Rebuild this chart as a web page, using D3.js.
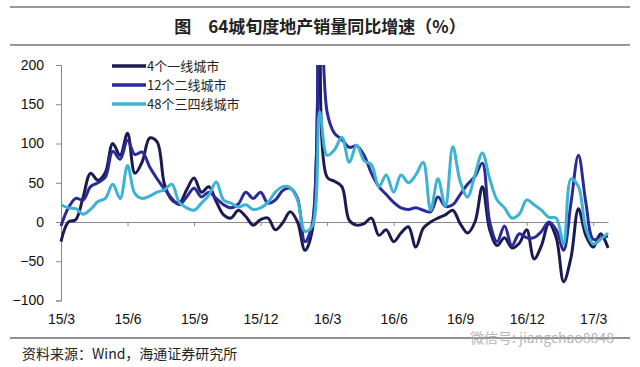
<!DOCTYPE html>
<html>
<head>
<meta charset="utf-8">
<script src="https://cdn.jsdelivr.net/npm/d3@7"></script>
<style>
body{margin:0;background:#fff}
text{font-family:"Liberation Sans",Arial,sans-serif}
.cn{font-family:"Noto Sans CJK SC","Noto Sans",sans-serif}
</style>
</head>
<body>
<div id="chart"></div>
<script>
// 旬度数据, 15/3 起, 每月三旬
let tickLabels = ["15/3","15/6","15/9","15/12","16/3","16/6","16/9","16/12","17/3"]
let seriesNames = ["4个一线城市","12个二线城市","48个三四线城市"]

let tier1 = [-25,0,3,32,62,53,63,100,85,113,62,77,107,102,48,28,24,41,56,38,
    45,26,9,5,15,7,-4,3,5,-10,-1,13,0,-36,-10,330,57,52,45,2,
    -4,-2,5,-17,-10,-25,-14,-6,-32,-8,0,5,9,15,-2,-14,0,45,-10,-30,
    -20,-33,-27,-10,-47,-30,-2,-20,-76,-45,17,-17,-32,-15,-33]
let tier2 = [-5,18,30,28,45,50,57,90,80,104,86,89,70,55,42,30,22,32,43,32,
    38,30,22,18,23,38,30,38,24,28,40,43,30,-25,-2,360,140,113,105,95,
    97,85,62,45,35,25,18,16,18,15,13,32,20,22,35,48,58,75,0,-25,
    -5,-30,-15,-20,-20,-12,0,-10,-36,25,85,25,-22,-20,-18]
let tier34 = [22,18,17,10,16,26,30,48,30,72,36,30,33,38,41,48,25,18,15,24,
    34,51,28,24,19,22,16,18,25,38,45,44,28,-12,-5,140,85,92,108,76,
    98,78,73,45,60,38,60,50,60,76,15,55,20,96,52,32,60,88,55,28,
    18,5,10,28,22,15,6,5,-28,55,45,-8,-28,-22,-14]

let yTicks = [-100,-50,0,50,100,150,200]
let colors = ["#1b1b50","#2b2b98","#3db2d2"]

function drawChart(){
    let W = 640, H = 367
    let svg = d3.select("#chart").append("svg")
        .attr("width", W).attr("height", H)

    // 标题
    svg.append("line").attr("x1", 10).attr("x2", 630).attr("y1", 7).attr("y2", 7)
        .attr("stroke", "#333").attr("stroke-width", 1.2)
    svg.append("line").attr("x1", 10).attr("x2", 630).attr("y1", 45).attr("y2", 45)
        .attr("stroke", "#333").attr("stroke-width", 1.2)
    svg.append("text").attr("class", "cn")
        .attr("x", 320).attr("y", 33).attr("text-anchor", "middle")
        .attr("font-size", 17).attr("font-weight", "bold").attr("fill", "#222")
        .text("图　64城旬度地产销量同比增速（%）")

    let data = [tier1, tier2, tier34]
    let n = tier1.length
    let scX = d3.scaleLinear().domain([0, n - 1]).range([61, 608])
    let scY = d3.scaleLinear().domain([-100, 200]).range([300.5, 65])

    // y轴
    let yAxis = d3.axisLeft(scY).tickValues(yTicks).tickSize(5).tickPadding(12)
    let gy = svg.append("g").attr("transform", "translate(61,0)").call(yAxis)
    gy.select(".domain").attr("stroke", "#888")
    gy.selectAll(".tick line").attr("stroke", "#888")
    gy.selectAll("text").attr("font-size", 14).attr("fill", "#111")
        .style("font-family", "Liberation Sans, Arial, sans-serif")

    // 零线和x轴
    let xAxis = d3.axisBottom(scX)
        .tickValues(tickLabels.map((d, i) => i * 9))
        .tickFormat((d, i) => tickLabels[i])
        .tickSize(4).tickSizeOuter(0)
    let gx = svg.append("g").attr("transform", `translate(0,${scY(0)})`).call(xAxis)
    gx.select(".domain").attr("stroke", "#888")
    gx.selectAll(".tick line").attr("stroke", "#888")
    gx.selectAll("text").attr("font-size", 14).attr("fill", "#111")
        .attr("y", 0).attr("dy", 0)
        .attr("transform", `translate(0,${324 - scY(0)})`)
        .style("font-family", "Liberation Sans, Arial, sans-serif")

    svg.append("clipPath").attr("id", "plot-clip")
        .append("rect").attr("x", 55).attr("y", scY(200)).attr("width", 560)
        .attr("height", scY(-100) - scY(200))

    let line = d3.line()
        .x((d, i) => scX(i))
        .y(d => scY(d))
        .curve(d3.curveCatmullRom.alpha(0.5))

    let g = svg.append("g").attr("clip-path", "url(#plot-clip)")
    data.forEach((vals, idx) => {
        g.append("path")
            .attr("d", line(vals))
            .attr("fill", "none")
            .attr("stroke", colors[idx])
            .attr("stroke-width", 3)
            .attr("stroke-linejoin", "round")
    })

    // 图例
    seriesNames.forEach((name, idx) => {
        let y = 66 + idx * 19
        svg.append("line").attr("x1", 112).attr("x2", 146)
            .attr("y1", y).attr("y2", y)
            .attr("stroke", colors[idx]).attr("stroke-width", 3.5)
        svg.append("text").attr("class", "cn")
            .attr("x", 147).attr("y", y + 5)
            .attr("font-size", 13).attr("fill", "#222")
            .text(name)
    })

    // 来源
    svg.append("line").attr("x1", 10).attr("x2", 630).attr("y1", 338).attr("y2", 338)
        .attr("stroke", "#222").attr("stroke-width", 1)
    svg.append("text").attr("class", "cn")
        .attr("x", 22).attr("y", 359).attr("font-size", 14).attr("fill", "#222")
        .text("资料来源：Wind，海通证券研究所")
    svg.append("text").attr("class", "cn")
        .attr("x", 470).attr("y", 343).attr("font-size", 14).attr("fill", "#aaa")
        .attr("opacity", 0.85)
        .text("微信号: jiangchao8848")
}

drawChart()
</script>
</body>
</html>
